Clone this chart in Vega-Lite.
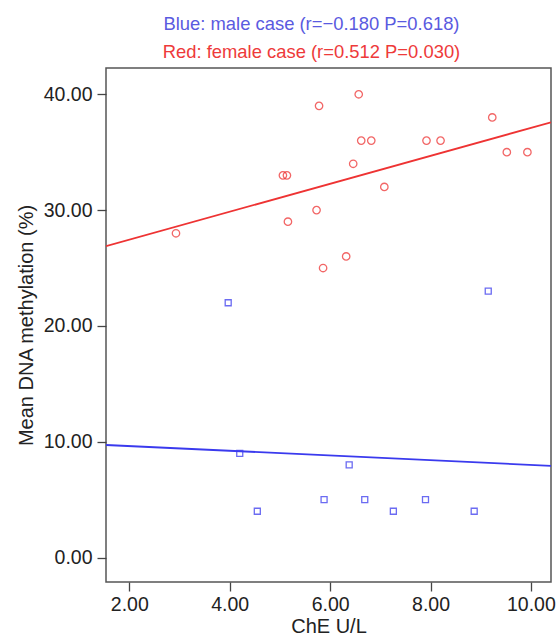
{
  "$schema": "https://vega.github.io/schema/vega-lite/v6.json",
  "autosize": "none",
  "width": 445,
  "height": 514,
  "padding": {"left": 106, "top": 68, "right": 7, "bottom": 60},
  "background": "white",
  "config": {
    "font": "Liberation Sans",
    "view": {"stroke": "#555555", "strokeWidth": 1.5},
    "axis": {
      "grid": false,
      "domain": false,
      "tickColor": "#444444",
      "tickWidth": 1.3,
      "tickSize": 9,
      "labelFont": "Liberation Sans",
      "labelFontSize": 19.5,
      "labelColor": "#222222",
      "titleFont": "Liberation Sans",
      "titleFontSize": 20,
      "titleFontWeight": "normal",
      "titleColor": "#222222"
    }
  },
  "title": {
    "text": "Blue: male case (r=\u22120.180 P=0.618)",
    "subtitle": "Red: female case (r=0.512 P=0.030)",
    "font": "Liberation Sans",
    "subtitleFont": "Liberation Sans",
    "fontSize": 18.4,
    "subtitleFontSize": 18.4,
    "fontWeight": "normal",
    "color": "#5a5ae0",
    "subtitleColor": "#ee3a3a",
    "subtitlePadding": 9,
    "anchor": "middle",
    "dx": -17,
    "offset": 7
  },
  "datasets": {
    "pts": [
      {"sex": "female", "che": 2.93, "meth": 28},
      {"sex": "female", "che": 5.78, "meth": 39},
      {"sex": "female", "che": 6.57, "meth": 40},
      {"sex": "female", "che": 6.62, "meth": 36},
      {"sex": "female", "che": 6.82, "meth": 36},
      {"sex": "female", "che": 7.92, "meth": 36},
      {"sex": "female", "che": 8.20, "meth": 36},
      {"sex": "female", "che": 9.23, "meth": 38},
      {"sex": "female", "che": 9.52, "meth": 35},
      {"sex": "female", "che": 9.93, "meth": 35},
      {"sex": "female", "che": 6.46, "meth": 34},
      {"sex": "female", "che": 5.06, "meth": 33},
      {"sex": "female", "che": 5.14, "meth": 33},
      {"sex": "female", "che": 7.08, "meth": 32},
      {"sex": "female", "che": 5.73, "meth": 30},
      {"sex": "female", "che": 5.16, "meth": 29},
      {"sex": "female", "che": 6.32, "meth": 26},
      {"sex": "female", "che": 5.86, "meth": 25},
      {"sex": "male", "che": 3.97, "meth": 22},
      {"sex": "male", "che": 9.15, "meth": 23},
      {"sex": "male", "che": 4.20, "meth": 9},
      {"sex": "male", "che": 6.38, "meth": 8},
      {"sex": "male", "che": 5.88, "meth": 5},
      {"sex": "male", "che": 6.69, "meth": 5},
      {"sex": "male", "che": 7.90, "meth": 5},
      {"sex": "male", "che": 4.55, "meth": 4},
      {"sex": "male", "che": 7.26, "meth": 4},
      {"sex": "male", "che": 8.87, "meth": 4}
    ],
    "fit": [
      {"sex": "female", "che": 1.536, "meth": 26.89},
      {"sex": "female", "che": 10.40, "meth": 37.58},
      {"sex": "male", "che": 1.536, "meth": 9.72},
      {"sex": "male", "che": 10.40, "meth": 7.92}
    ]
  },
  "encoding": {
    "x": {
      "field": "che", "type": "quantitative",
      "scale": {"domain": [1.536, 10.40], "nice": false, "zero": false},
      "axis": {"values": [2, 4, 6, 8, 10], "format": ".2f", "title": "ChE U/L", "labelPadding": 4, "titlePadding": 3}
    },
    "y": {
      "field": "meth", "type": "quantitative",
      "scale": {"domain": [-2.11, 42.27], "nice": false, "zero": false},
      "axis": {"values": [0, 10, 20, 30, 40], "format": ".2f", "title": "Mean DNA methylation (%)", "labelPadding": 5, "titlePadding": 7}
    },
    "color": {
      "field": "sex", "type": "nominal",
      "scale": {"domain": ["female", "male"], "range": ["#ee3333", "#3a3aee"]},
      "legend": null
    }
  },
  "layer": [
    {
      "data": {"name": "fit"},
      "mark": {"type": "line", "strokeWidth": 1.8, "clip": true},
      "encoding": {"detail": {"field": "sex"}}
    },
    {
      "data": {"name": "pts"},
      "mark": {"type": "point", "filled": false, "strokeWidth": 1.3, "opacity": 0.75},
      "encoding": {
        "shape": {"field": "sex", "type": "nominal", "scale": {"domain": ["female", "male"], "range": ["circle", "square"]}, "legend": null},
        "size": {"field": "sex", "type": "nominal", "scale": {"domain": ["female", "male"], "range": [55, 36]}, "legend": null}
      }
    }
  ]
}
